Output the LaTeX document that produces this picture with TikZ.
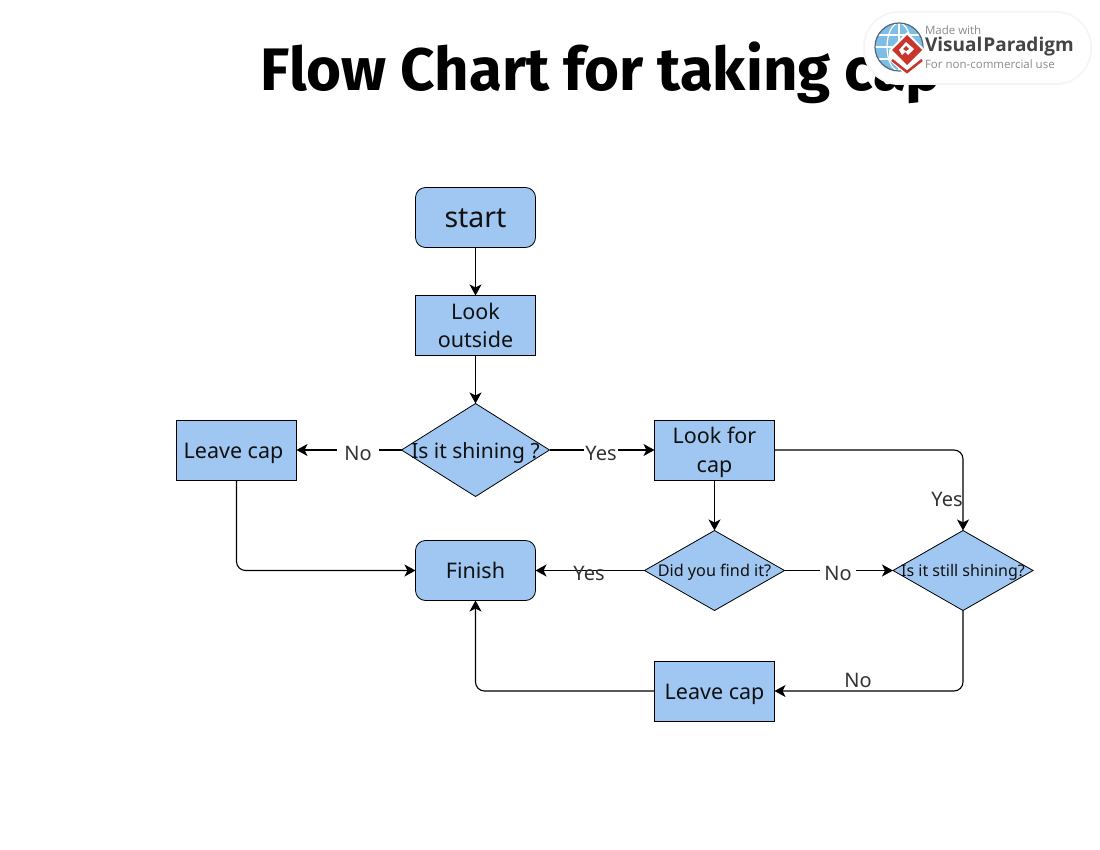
\documentclass[tikz,border=0pt]{standalone}
\usepackage{fontspec}
\setmainfont{Noto Sans}
\newfontfamily\titlefont{Fira Sans}
\newfontfamily\vpfont{Open Sans}
\usetikzlibrary{arrows.meta,shapes.geometric}
\definecolor{boxfill}{HTML}{9FC7F1}
\definecolor{txt}{HTML}{111111}
\definecolor{lbl}{HTML}{333333}
\definecolor{vpgrey}{HTML}{8A8A8A}
\definecolor{vpdark}{HTML}{444444}
\definecolor{vpred}{HTML}{C9352B}
\definecolor{vpblue}{HTML}{7DBDE8}
\tikzset{
 x=1pt,y=1pt,
 every node/.style={inner sep=0pt,outer sep=0pt,text=txt},
 procbox/.style={draw=black,fill=boxfill,line width=0.8pt,rectangle,minimum width=120pt,minimum height=60pt,align=center,font=\fontsize{21.5}{28}\selectfont},
 roundbox/.style={procbox,rounded corners=10pt},
 decision/.style={draw=black,fill=boxfill,line width=0.8pt,diamond,aspect=1.6,align=center},
 conn/.style={draw=black,line width=1.1pt,-{Stealth[length=11pt,width=12pt,inset=3pt]},rounded corners=9pt},
 lab/.style={text=lbl,font=\fontsize{20}{24}\selectfont},
}
\begin{document}
\begin{tikzpicture}
\useasboundingbox (0,0) rectangle (1100,-850);
\fill[white] (0,0) rectangle (1100,-850);
\node[font=\titlefont\bfseries\fontsize{60}{70}\selectfont,text=black] (title) at (601,-73) {Flow Chart for taking cap};

\node[roundbox,font=\fontsize{28.5}{32}\selectfont,text height=21.5pt,text depth=1pt] (start) at (475.5,-217.5) {start};
\node[procbox] (look) at (475.5,-325.5) {Look\\outside};
\node[decision,minimum width=148pt,minimum height=93pt] (shine) at (475.5,-450) {};
\node[font=\fontsize{21}{26}\selectfont] (shinet) at (475.5,-453) {Is it shining ?};
\node[procbox,text height=21pt,text depth=5pt] (leave1) at (236.5,-450) {Leave cap\hspace*{6pt}};
\node[procbox] (lookcap) at (714.5,-450) {\rule{0pt}{21pt}Look for\\[1pt]cap};
\node[roundbox] (finish) at (475.5,-570.5) {Finish};
\node[decision,minimum width=140pt,minimum height=80pt] (found) at (714.5,-570.5) {};
\node[font=\fontsize{16.2}{20}\selectfont] (foundt) at (714.5,-572) {Did you find it?};
\node[decision,minimum width=140pt,minimum height=80pt] (still) at (963,-570.5) {};
\node[font=\fontsize{16}{20}\selectfont] (stillt) at (963,-572) {Is it still shining?};
\node[procbox,text height=21pt,text depth=5pt] (leave2) at (714.5,-691) {Leave cap};

\draw[conn] (start) -- (look);
\draw[conn] (look) -- (shine);
\draw[conn] (shine.west) -- (leave1.east);
\draw[conn] (shine.east) -- (lookcap.west);
\draw[conn] (leave1.south) |- (finish.west);
\draw[conn] (lookcap.south) -- (found.north);
\draw[conn] (lookcap.east) -| (still.north);
\draw[conn] (found.west) -- (finish.east);
\draw[conn] (found.east) -- (still.west);
\draw[conn] (still.south) |- (leave2.east);
\draw[conn] (leave2.west) -| (finish.south);

\node[lab,fill=white,minimum width=42pt,minimum height=24pt] (lno1) at (358,-453) {No};
\node[lab,fill=white,minimum width=34pt,minimum height=20pt] (lyes1) at (601,-453) {Yes};
\node[lab] (lyes2) at (947,-499) {Yes};
\node[lab] (lyes3) at (589,-573) {Yes};
\node[lab,fill=white,minimum width=36pt,minimum height=24pt] (lno2) at (838,-573) {No};
\node[lab] (lno3) at (858,-680) {No};

% watermark badge
\fill[black!4,rounded corners=36pt] (863,-11) rectangle (1092,-85);
\fill[white,rounded corners=34pt] (865,-13) rectangle (1090,-83);
\fill[vpblue] (899,-47) circle (24);
\begin{scope}
\clip (899,-47) circle (24);
\draw[white,line width=1.2pt] (875,-47) -- (923,-47) (899,-23) -- (899,-71);
\draw[white,line width=1.2pt] (899,-47) ellipse (12 and 24);
\draw[white,line width=1.2pt] (875,-35) -- (923,-35) (875,-59) -- (923,-59);
\end{scope}
\draw[vpdark!70!vpblue,line width=1.2pt] (899,-47) circle (24);
\fill[white] (907,-32) -- (925,-50) -- (925,-60) -- (907,-76) -- (889,-60) -- (889,-50) -- cycle;
\fill[vpred] (907,-35) -- (922,-50) -- (907,-65) -- (892,-50) -- cycle;
\fill[white] (906,-42) -- (914,-49) -- (908,-55) -- (905,-52) -- (902,-55) -- (899,-50) -- cycle;
\fill[vpred] (906,-46) -- (909,-49) -- (906,-51) -- (903,-49) -- cycle;
\draw[vpred,line width=2.5pt] (892,-60) -- (907,-72) -- (922,-60);
\node[anchor=west,text=vpgrey,font=\vpfont\fontsize{11.5}{13}\selectfont] (vp1) at (925,-30) {Made with};
\node[anchor=west,text=vpdark,font=\vpfont\bfseries\fontsize{19}{22}\selectfont] (vp2) at (925,-47) {Visual\kern1pt Paradigm};
\node[anchor=west,text=vpgrey,font=\vpfont\fontsize{11.5}{13}\selectfont] (vp3) at (925,-64) {For non-commercial use};
\end{tikzpicture}
\end{document}
